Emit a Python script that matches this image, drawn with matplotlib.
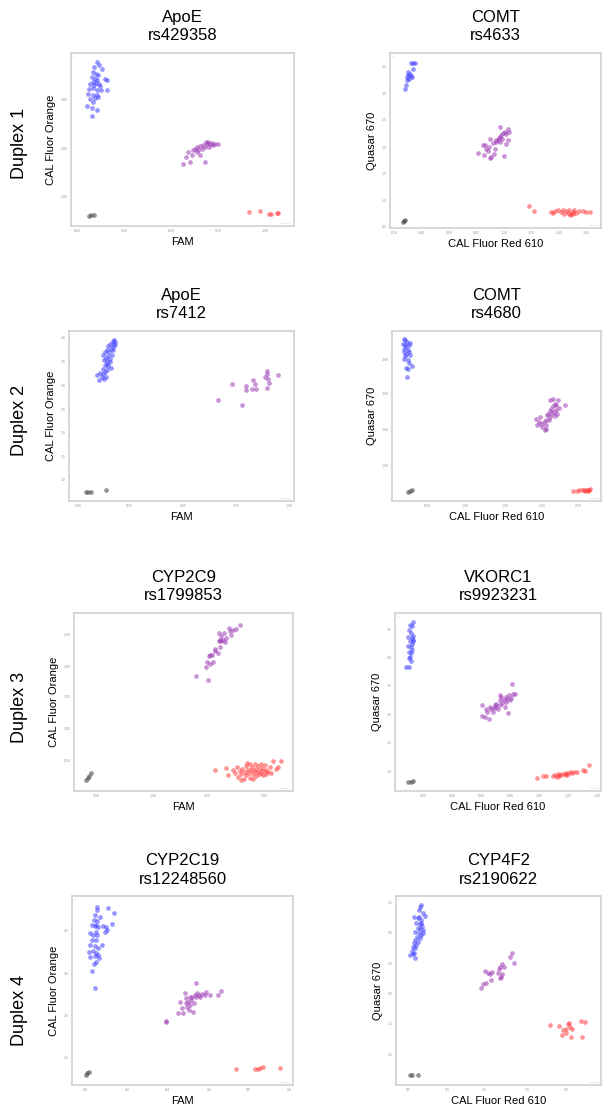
import matplotlib
matplotlib.use("Agg")
import matplotlib.pyplot as plt

W, H = 603, 1107
plt.rcParams['font.family'] = ['Liberation Sans', 'DejaVu Sans']

# panel text
genes = ["ApoE", "COMT", "ApoE", "COMT", "CYP2C9", "VKORC1", "CYP2C19", "CYP4F2"]
snps = ["rs429358", "rs4633", "rs7412", "rs4680", "rs1799853", "rs9923231", "rs12248560", "rs2190622"]
duplex_labels = ["Duplex 1", "Duplex 2", "Duplex 3", "Duplex 4"]
x_labels = ["FAM", "CAL Fluor Red 610"] * 4
y_labels = ["CAL Fluor Orange", "Quasar 670"] * 4

# cluster points (fraction of each plot's range)
p1_blue = [(0.115, 0.948), (0.105, 0.919), (0.127, 0.929), (0.138, 0.909), (0.100, 0.890),
           (0.112, 0.881), (0.123, 0.871), (0.093, 0.861), (0.108, 0.852), (0.118, 0.842),
           (0.097, 0.832), (0.112, 0.827), (0.124, 0.823), (0.105, 0.813), (0.085, 0.823),
           (0.130, 0.807), (0.152, 0.852), (0.160, 0.846), (0.082, 0.794), (0.100, 0.800),
           (0.115, 0.788), (0.135, 0.784), (0.163, 0.788), (0.078, 0.765), (0.097, 0.759),
           (0.118, 0.755), (0.085, 0.736), (0.106, 0.742), (0.123, 0.746), (0.073, 0.692),
           (0.094, 0.684), (0.115, 0.672), (0.094, 0.634), (0.100, 0.717)]
p1_purple = [(0.504, 0.360), (0.516, 0.399), (0.526, 0.428), (0.534, 0.370), (0.546, 0.437),
             (0.556, 0.447), (0.564, 0.457), (0.571, 0.441), (0.578, 0.461), (0.586, 0.447),
             (0.593, 0.466), (0.601, 0.457), (0.608, 0.476), (0.616, 0.486), (0.623, 0.472),
             (0.631, 0.480), (0.638, 0.470), (0.646, 0.476), (0.661, 0.472), (0.599, 0.370),
             (0.578, 0.408), (0.564, 0.428), (0.541, 0.408), (0.620, 0.457), (0.605, 0.486)]
p1_red = [(0.800, 0.079), (0.848, 0.087), (0.889, 0.067), (0.895, 0.071), (0.922, 0.075), (0.929, 0.077)]
p1_black = [(0.082, 0.058), (0.088, 0.061), (0.105, 0.065)]

p2_blue = [(0.098, 0.943), (0.110, 0.943), (0.118, 0.943), (0.107, 0.910), (0.087, 0.891),
           (0.094, 0.878), (0.082, 0.863), (0.102, 0.863), (0.091, 0.851), (0.079, 0.844),
           (0.076, 0.815), (0.072, 0.796), (0.098, 0.870), (0.087, 0.872)]
p2_purple = [(0.417, 0.430), (0.441, 0.472), (0.449, 0.476), (0.446, 0.415), (0.457, 0.453),
             (0.469, 0.463), (0.472, 0.510), (0.480, 0.406), (0.488, 0.486), (0.496, 0.453),
             (0.501, 0.491), (0.504, 0.501), (0.512, 0.505), (0.517, 0.516), (0.520, 0.491),
             (0.523, 0.520), (0.528, 0.530), (0.535, 0.543), (0.539, 0.410), (0.543, 0.549),
             (0.551, 0.535), (0.559, 0.568), (0.564, 0.549), (0.520, 0.577), (0.491, 0.425),
             (0.465, 0.440), (0.476, 0.402), (0.559, 0.501), (0.548, 0.482), (0.532, 0.510)]
p2_red = [(0.661, 0.124), (0.682, 0.095), (0.764, 0.091), (0.780, 0.097), (0.795, 0.105),
          (0.811, 0.093), (0.819, 0.101), (0.835, 0.097), (0.843, 0.088), (0.850, 0.105),
          (0.858, 0.082), (0.866, 0.091), (0.874, 0.101), (0.882, 0.086), (0.898, 0.095),
          (0.913, 0.097), (0.929, 0.090), (0.948, 0.093), (0.854, 0.072), (0.869, 0.078),
          (0.772, 0.086), (0.827, 0.082)]
p2_black = [(0.060, 0.034), (0.068, 0.040), (0.072, 0.044)]

p3_blue = [(0.123, 0.739), (0.135, 0.714), (0.145, 0.729), (0.153, 0.745), (0.138, 0.753),
           (0.156, 0.720), (0.164, 0.729), (0.160, 0.759), (0.170, 0.769), (0.150, 0.778),
           (0.160, 0.798), (0.167, 0.808), (0.175, 0.792), (0.182, 0.818), (0.156, 0.827),
           (0.164, 0.843), (0.175, 0.851), (0.182, 0.837), (0.190, 0.857), (0.153, 0.857),
           (0.160, 0.876), (0.170, 0.886), (0.179, 0.876), (0.187, 0.896), (0.194, 0.906),
           (0.175, 0.910), (0.182, 0.925), (0.197, 0.922), (0.204, 0.935), (0.194, 0.941),
           (0.200, 0.949), (0.206, 0.916), (0.185, 0.784), (0.170, 0.824), (0.197, 0.886)]
p3_purple = [(0.664, 0.596), (0.723, 0.686), (0.767, 0.567), (0.785, 0.678), (0.787, 0.651),
             (0.815, 0.661), (0.819, 0.710), (0.827, 0.686), (0.831, 0.661), (0.871, 0.729),
             (0.879, 0.765), (0.881, 0.745), (0.886, 0.718), (0.890, 0.694), (0.879, 0.667),
             (0.927, 0.739)]
p3_red = []
p3_black = [(0.076, 0.051), (0.086, 0.051), (0.096, 0.055), (0.163, 0.063)]

p4_blue = [(0.056, 0.955), (0.063, 0.945), (0.071, 0.935), (0.084, 0.929), (0.052, 0.922),
           (0.060, 0.916), (0.068, 0.906), (0.056, 0.896), (0.075, 0.890), (0.081, 0.876),
           (0.059, 0.876), (0.068, 0.863), (0.087, 0.857), (0.056, 0.837), (0.075, 0.831),
           (0.083, 0.812), (0.095, 0.792), (0.068, 0.784), (0.076, 0.778), (0.071, 0.729),
           (0.063, 0.851), (0.079, 0.916)]
p4_purple = [(0.687, 0.484), (0.694, 0.445), (0.703, 0.465), (0.710, 0.494), (0.719, 0.435),
             (0.725, 0.465), (0.730, 0.416), (0.735, 0.478), (0.738, 0.445), (0.741, 0.504),
             (0.746, 0.514), (0.751, 0.475), (0.754, 0.529), (0.757, 0.494), (0.762, 0.543),
             (0.767, 0.514), (0.770, 0.557), (0.773, 0.524), (0.778, 0.573), (0.783, 0.537),
             (0.786, 0.563), (0.789, 0.510), (0.794, 0.592), (0.798, 0.549), (0.770, 0.602),
             (0.754, 0.592), (0.830, 0.563), (0.738, 0.425), (0.714, 0.451), (0.778, 0.498)]
p4_red = [(0.868, 0.059), (0.884, 0.061), (0.897, 0.063), (0.910, 0.065), (0.921, 0.067),
          (0.929, 0.063), (0.937, 0.067), (0.944, 0.065), (0.949, 0.069), (0.925, 0.059),
          (0.938, 0.061)]
p4_black = [(0.076, 0.055), (0.084, 0.059), (0.097, 0.065)]

p5_blue = []
p5_purple = [(0.556, 0.647), (0.612, 0.624), (0.602, 0.699), (0.608, 0.722), (0.623, 0.714),
             (0.635, 0.727), (0.617, 0.759), (0.623, 0.765), (0.629, 0.765), (0.643, 0.797),
             (0.658, 0.774), (0.666, 0.808), (0.673, 0.840), (0.666, 0.846), (0.681, 0.850),
             (0.688, 0.835), (0.696, 0.859), (0.711, 0.897), (0.719, 0.878), (0.726, 0.902),
             (0.742, 0.910), (0.760, 0.934), (0.708, 0.915), (0.685, 0.887), (0.663, 0.887),
             (0.669, 0.868), (0.643, 0.784), (0.661, 0.840)]
p5_red = [(0.643, 0.117), (0.696, 0.132), (0.704, 0.088), (0.726, 0.120), (0.734, 0.102),
          (0.745, 0.135), (0.749, 0.079), (0.757, 0.113), (0.764, 0.098), (0.769, 0.126),
          (0.775, 0.070), (0.780, 0.107), (0.784, 0.139), (0.787, 0.088), (0.795, 0.120),
          (0.799, 0.102), (0.802, 0.150), (0.805, 0.075), (0.810, 0.117), (0.815, 0.135),
          (0.818, 0.098), (0.822, 0.113), (0.825, 0.150), (0.830, 0.083), (0.833, 0.126),
          (0.836, 0.107), (0.840, 0.139), (0.845, 0.094), (0.848, 0.117), (0.853, 0.154),
          (0.856, 0.102), (0.860, 0.132), (0.863, 0.088), (0.866, 0.113), (0.871, 0.145),
          (0.875, 0.098), (0.878, 0.120), (0.886, 0.107), (0.894, 0.135), (0.901, 0.102),
          (0.909, 0.169), (0.921, 0.126), (0.932, 0.135), (0.947, 0.169), (0.764, 0.060),
          (0.818, 0.070), (0.790, 0.158)]
p5_black = [(0.055, 0.064), (0.062, 0.075), (0.070, 0.086), (0.078, 0.102)]

p6_blue = [(0.085, 0.947), (0.073, 0.934), (0.081, 0.928), (0.069, 0.906), (0.077, 0.887),
           (0.065, 0.864), (0.081, 0.858), (0.085, 0.849), (0.073, 0.840), (0.089, 0.840),
           (0.065, 0.815), (0.076, 0.808), (0.084, 0.826), (0.069, 0.783), (0.077, 0.774),
           (0.073, 0.755), (0.068, 0.745), (0.076, 0.732), (0.053, 0.694), (0.066, 0.698),
           (0.082, 0.792), (0.089, 0.872)]
p6_purple = [(0.424, 0.481), (0.424, 0.419), (0.435, 0.415), (0.447, 0.443), (0.456, 0.402),
             (0.460, 0.472), (0.468, 0.462), (0.476, 0.443), (0.484, 0.481), (0.489, 0.472),
             (0.492, 0.491), (0.500, 0.462), (0.508, 0.509), (0.511, 0.481), (0.516, 0.528),
             (0.521, 0.494), (0.527, 0.509), (0.532, 0.472), (0.537, 0.528), (0.540, 0.500),
             (0.544, 0.519), (0.548, 0.438), (0.553, 0.538), (0.560, 0.509), (0.565, 0.525),
             (0.569, 0.600), (0.573, 0.547), (0.581, 0.543), (0.508, 0.538), (0.479, 0.468),
             (0.444, 0.462)]
p6_red = [(0.689, 0.075), (0.718, 0.085), (0.731, 0.083), (0.769, 0.083), (0.779, 0.091),
          (0.785, 0.079), (0.792, 0.094), (0.802, 0.089), (0.811, 0.098), (0.823, 0.094),
          (0.831, 0.100), (0.840, 0.098), (0.850, 0.106), (0.871, 0.109), (0.882, 0.104),
          (0.911, 0.117), (0.924, 0.113), (0.944, 0.147), (0.795, 0.083), (0.831, 0.089),
          (0.860, 0.100)]
p6_black = [(0.065, 0.051), (0.077, 0.053), (0.089, 0.058)]

p7_blue = [(0.115, 0.944), (0.113, 0.926), (0.164, 0.935), (0.189, 0.908), (0.106, 0.899),
           (0.098, 0.873), (0.092, 0.847), (0.103, 0.841), (0.110, 0.847), (0.118, 0.838),
           (0.140, 0.841), (0.152, 0.834), (0.158, 0.820), (0.179, 0.852), (0.148, 0.811),
           (0.083, 0.802), (0.095, 0.794), (0.107, 0.811), (0.115, 0.794), (0.092, 0.767),
           (0.110, 0.767), (0.080, 0.741), (0.103, 0.735), (0.118, 0.723), (0.137, 0.741),
           (0.077, 0.705), (0.095, 0.711), (0.107, 0.697), (0.118, 0.688), (0.083, 0.675),
           (0.103, 0.683), (0.110, 0.653), (0.100, 0.640), (0.090, 0.605), (0.103, 0.511),
           (0.122, 0.670), (0.125, 0.891), (0.113, 0.869)]
p7_purple = [(0.424, 0.339), (0.427, 0.333), (0.480, 0.379), (0.487, 0.441), (0.499, 0.406),
             (0.502, 0.379), (0.510, 0.485), (0.514, 0.436), (0.520, 0.414), (0.525, 0.441),
             (0.529, 0.397), (0.535, 0.423), (0.540, 0.450), (0.544, 0.464), (0.551, 0.432),
             (0.555, 0.476), (0.560, 0.538), (0.563, 0.467), (0.567, 0.485), (0.575, 0.476),
             (0.581, 0.467), (0.590, 0.481), (0.600, 0.476), (0.608, 0.494), (0.626, 0.476),
             (0.661, 0.476), (0.676, 0.499), (0.517, 0.459), (0.548, 0.388), (0.532, 0.467)]
p7_red = [(0.744, 0.086), (0.827, 0.083), (0.842, 0.086), (0.849, 0.092), (0.864, 0.093), (0.940, 0.088)]
p7_black = [(0.062, 0.053), (0.069, 0.062), (0.077, 0.069)]

p8_blue = [(0.121, 0.952), (0.115, 0.940), (0.110, 0.926), (0.134, 0.908), (0.142, 0.894),
           (0.089, 0.887), (0.105, 0.882), (0.121, 0.873), (0.099, 0.855), (0.115, 0.852),
           (0.126, 0.841), (0.105, 0.829), (0.118, 0.824), (0.131, 0.820), (0.094, 0.811),
           (0.110, 0.802), (0.121, 0.794), (0.102, 0.785), (0.115, 0.776), (0.094, 0.767),
           (0.105, 0.758), (0.086, 0.750), (0.099, 0.741), (0.083, 0.732), (0.094, 0.723),
           (0.078, 0.711), (0.089, 0.700), (0.070, 0.688), (0.083, 0.693), (0.094, 0.670),
           (0.121, 0.859), (0.110, 0.891), (0.131, 0.802)]
p8_purple = [(0.413, 0.511), (0.426, 0.534), (0.439, 0.538), (0.434, 0.605), (0.450, 0.594),
             (0.458, 0.587), (0.466, 0.600), (0.461, 0.556), (0.498, 0.591), (0.503, 0.612),
             (0.506, 0.626), (0.510, 0.573), (0.515, 0.587), (0.519, 0.640), (0.526, 0.626),
             (0.555, 0.675), (0.568, 0.700), (0.574, 0.647), (0.506, 0.564)]
p8_red = [(0.752, 0.317), (0.794, 0.314), (0.814, 0.291), (0.827, 0.295), (0.830, 0.273),
          (0.838, 0.323), (0.846, 0.330), (0.850, 0.309), (0.859, 0.295), (0.854, 0.252),
          (0.903, 0.339), (0.924, 0.333), (0.908, 0.256), (0.811, 0.265)]
p8_black = [(0.066, 0.053), (0.078, 0.053), (0.107, 0.053)]

# tick positions and (unreadably small) tick labels
p1_xt, p1_xl = [0.03, 0.24, 0.45, 0.66, 0.87], ["0.00", "0.25", "0.50", "0.75", "1.00"]
p1_yt, p1_yl = [0.17, 0.45, 0.73], ["1.00", "2.00", "3.00"]
p2_xt, p2_xl = [0.02, 0.15, 0.28, 0.41, 0.54, 0.67, 0.80, 0.93], ["0.20", "0.40", "0.60", "0.80", "1.00", "1.20", "1.40", "1.60"]
p2_yt, p2_yl = [0.01, 0.16, 0.31, 0.46, 0.62, 0.77, 0.92], ["0.5", "1.0", "1.5", "2.0", "2.5", "3.0", "3.5"]
p3_xt, p3_xl = [0.04, 0.27, 0.51, 0.745, 0.98], ["0.00", "0.25", "0.50", "0.75", "1.00"]
p3_yt, p3_yl = [0.125, 0.26, 0.40, 0.54, 0.68, 0.82, 0.96], ["1.0", "1.5", "2.0", "2.5", "3.0", "3.5", "4.0"]
p4_xt, p4_xl = [0.17, 0.35, 0.54, 0.72, 0.89], ["0.50", "1.00", "1.50", "2.00", "2.50"]
p4_yt, p4_yl = [0.21, 0.42, 0.63, 0.835], ["1.00", "2.00", "3.00", "4.00"]
p5_xt, p5_xl = [0.10, 0.36, 0.61, 0.87], ["0.50", "1.00", "1.50", "2.00"]
p5_yt, p5_yl = [0.17, 0.35, 0.53, 0.70, 0.88], ["0.50", "1.00", "1.50", "2.00", "2.50"]
p6_xt, p6_xl = [0.14, 0.28, 0.42, 0.56, 0.70, 0.84, 0.98], ["0.20", "0.40", "0.60", "0.80", "1.00", "1.20", "1.40"]
p6_yt, p6_yl = [0.11, 0.27, 0.43, 0.59, 0.75, 0.906], ["1.0", "1.5", "2.0", "2.5", "3.0", "3.5"]
p7_xt, p7_xl = [0.06, 0.25, 0.43, 0.62, 0.80, 0.985], ["0.0", "0.2", "0.4", "0.6", "0.8", "1.0"]
p7_yt, p7_yl = [0.146, 0.37, 0.59, 0.815], ["1.0", "2.0", "3.0", "4.0"]
p8_xt, p8_xl = [0.06, 0.25, 0.43, 0.64, 0.83], ["0.0", "0.5", "1.0", "1.5", "2.0"]
p8_yt, p8_yl = [0.164, 0.326, 0.485, 0.644, 0.806, 0.965], ["1.0", "1.5", "2.0", "2.5", "3.0", "3.5"]

clusters = [
    (p1_blue, p1_purple, p1_red, p1_black), (p2_blue, p2_purple, p2_red, p2_black),
    (p3_blue, p3_purple, p3_red, p3_black), (p4_blue, p4_purple, p4_red, p4_black),
    (p5_blue, p5_purple, p5_red, p5_black), (p6_blue, p6_purple, p6_red, p6_black),
    (p7_blue, p7_purple, p7_red, p7_black), (p8_blue, p8_purple, p8_red, p8_black),
]
ticks = [(p1_xt, p1_xl, p1_yt, p1_yl), (p2_xt, p2_xl, p2_yt, p2_yl),
         (p3_xt, p3_xl, p3_yt, p3_yl), (p4_xt, p4_xl, p4_yt, p4_yl),
         (p5_xt, p5_xl, p5_yt, p5_yl), (p6_xt, p6_xl, p6_yt, p6_yl),
         (p7_xt, p7_xl, p7_yt, p7_yl), (p8_xt, p8_xl, p8_yt, p8_yl)]

cluster_colors = ["#4545ff", "#a040b8", "#ff4545", "#444444"]

# plot frames in pixels: left, right, top, bottom
boxes = [(71, 294, 53, 226), (390, 601, 53, 228),
         (69, 294, 331, 501), (392, 601, 331, 501),
         (74, 293, 613, 791), (395, 601, 613, 791),
         (72, 293, 896, 1085), (396, 601, 896, 1085)]
duplex_y = [143, 420, 707, 1010]

fig = plt.figure(figsize=(W / 100, H / 100), dpi=100)

for i in range(8):
    l, r, t, b = boxes[i]
    ax = fig.add_axes([l / W, 1 - b / H, (r - l) / W, (b - t) / H])
    for pts, col in zip(clusters[i], cluster_colors):
        if pts:
            xs = [p[0] for p in pts]
            ys = [p[1] for p in pts]
            ax.scatter(xs, ys, s=8, color=col, alpha=0.55, linewidths=0.4,
                       edgecolors=col, zorder=3)
    ax.set_xlim(0, 1)
    ax.set_ylim(0, 1)
    xt, xl, yt, yl = ticks[i]
    ax.set_xticks(xt)
    ax.set_xticklabels(xl)
    ax.set_yticks(yt)
    ax.set_yticklabels(yl)
    ax.tick_params(length=0, labelsize=2.5, labelcolor="#999999", pad=2)
    for sp in ax.spines.values():
        sp.set_color("#d4d4d4")
        sp.set_linewidth(1.3)
    # tiny corner marks like the instrument export
    ax.text(0.01, 0.985, "x10", transform=ax.transAxes, fontsize=1.5, color="#bbbbbb", va="top")
    ax.text(0.985, 0.012, "Threshold", transform=ax.transAxes, fontsize=1.5, color="#bbbbbb", ha="right")
    ax.set_title(genes[i] + "\n" + snps[i], fontsize=12, pad=9, linespacing=1.3)
    ax.set_xlabel(x_labels[i], fontsize=8, labelpad=3)
    ax.set_ylabel(y_labels[i], fontsize=8, labelpad=4)

for lab, y in zip(duplex_labels, duplex_y):
    fig.text(20 / W, 1 - y / H, lab, fontsize=13, rotation=90, ha="center", va="center")

fig.savefig("out.png", dpi=100)
